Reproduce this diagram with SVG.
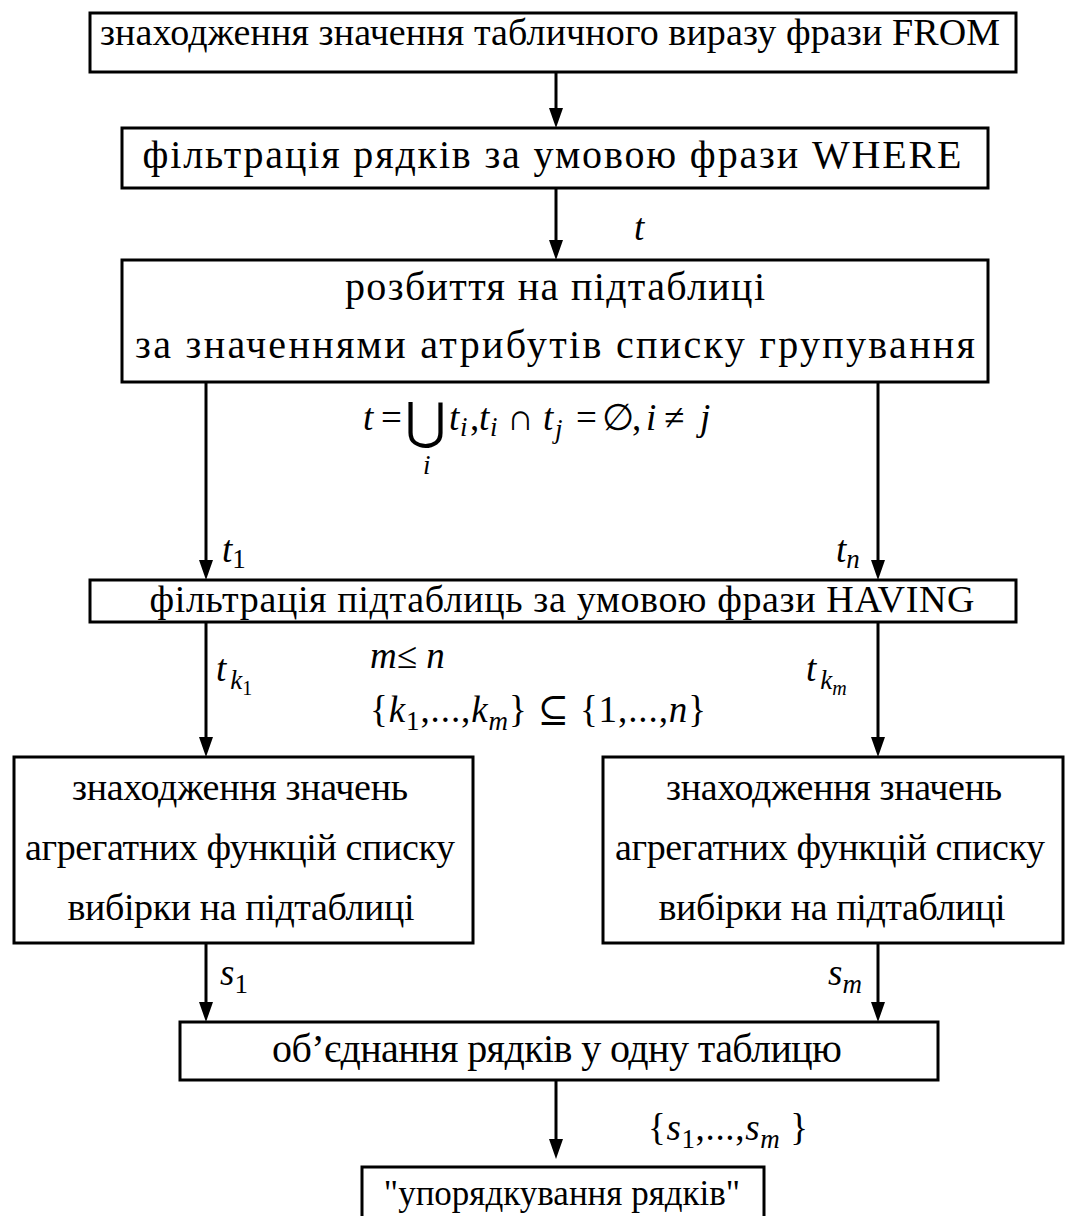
<svg xmlns="http://www.w3.org/2000/svg" width="1079" height="1216" viewBox="0 0 1079 1216" font-family="'Liberation Serif', 'DejaVu Serif', serif">
  <defs>
    <style>
      .box { fill: #fff; stroke: #000; stroke-width: 3; }
      text { font-family: 'Liberation Serif', 'DejaVu Serif', serif; fill: #000; }
      .lbl { font-size: 38px; text-anchor: middle; }
      .big { font-size: 40px; }
      .m { font-size: 37px; font-style: italic; }
      .mu { font-size: 37px; }
      .sub { font-size: 27px; }
      .edge { stroke: #000; stroke-width: 3; fill: none; }
    </style>
  </defs>
  <rect width="1079" height="1216" fill="#fff"/>

  <!-- connectors: vertical lines with filled triangular heads -->
  <g id="connectors">
    <line class="edge" x1="556" y1="72" x2="556" y2="108"/>
    <path d="M549,108 L563,108 L556,128 Z"/>
    <line class="edge" x1="556" y1="188" x2="556" y2="240"/>
    <path d="M549,240 L563,240 L556,260 Z"/>
    <line class="edge" x1="206" y1="382" x2="206" y2="560"/>
    <path d="M199,560 L213,560 L206,580 Z"/>
    <line class="edge" x1="878" y1="382" x2="878" y2="560"/>
    <path d="M871,560 L885,560 L878,580 Z"/>
    <line class="edge" x1="206" y1="622" x2="206" y2="737"/>
    <path d="M199,737 L213,737 L206,757 Z"/>
    <line class="edge" x1="878" y1="622" x2="878" y2="737"/>
    <path d="M871,737 L885,737 L878,757 Z"/>
    <line class="edge" x1="206" y1="943" x2="206" y2="1002"/>
    <path d="M199,1002 L213,1002 L206,1022 Z"/>
    <line class="edge" x1="878" y1="943" x2="878" y2="1002"/>
    <path d="M871,1002 L885,1002 L878,1022 Z"/>
    <line class="edge" x1="556" y1="1080" x2="556" y2="1139"/>
    <path d="M549,1139 L563,1139 L556,1159 Z"/>
  </g>

  <!-- connector labels and formulas -->
  <g id="edge-labels">
    <text class="m" x="634" y="240">t</text>

    <!-- partition formula -->
    <text class="m" x="363" y="430">t</text>
    <text class="mu" x="381" y="430">=</text>
    <text x="405" y="438" style="font-size:50px; font-family:'DejaVu Serif', serif;">⋃</text>
    <text class="m" x="423" y="474" style="font-size:27px;">i</text>
    <text class="m" x="449" y="430">t</text>
    <text class="m" x="460" y="436" style="font-size:27px;">i</text>
    <text class="mu" x="470" y="430">,</text>
    <text class="m" x="479" y="430">t</text>
    <text class="m" x="490" y="436" style="font-size:27px;">i</text>
    <text class="mu" x="507" y="430">∩</text>
    <text class="m" x="543" y="430">t</text>
    <text class="m" x="555" y="438" style="font-size:27px;">j</text>
    <text class="mu" x="576" y="430">=</text>
    <text class="mu" x="602" y="430">∅</text>
    <text class="mu" x="632" y="430">,</text>
    <text class="m" x="646" y="430">i</text>
    <text class="mu" x="664" y="430">≠</text>
    <text class="m" x="700" y="430">j</text>

    <text class="m" x="222" y="562">t<tspan class="sub" font-style="normal" dy="6">1</tspan></text>
    <text class="m" x="836" y="562">t<tspan class="sub" dy="6">n</tspan></text>

    <text class="m" x="216" y="681">t<tspan class="sub" dx="4" dy="8">k</tspan><tspan font-size="20" font-style="normal" dy="6">1</tspan></text>
    <text class="m" x="806" y="681">t<tspan class="sub" dx="4" dy="8">k</tspan><tspan font-size="20" dy="6">m</tspan></text>

    <text class="m" x="370" y="668">m<tspan font-style="normal">≤</tspan> n</text>
    <text class="mu" x="370" y="722" textLength="336" lengthAdjust="spacing">{<tspan font-style="italic">k</tspan><tspan class="sub" dy="8">1</tspan><tspan dy="-8">,...,</tspan><tspan font-style="italic">k</tspan><tspan class="sub" font-style="italic" dy="8">m</tspan><tspan dy="-8">} ⊆ {1,...,</tspan><tspan font-style="italic">n</tspan>}</text>

    <text class="m" x="220" y="985">s<tspan class="sub" font-style="normal" dy="8">1</tspan></text>
    <text class="m" x="828" y="985">s<tspan class="sub" dy="8">m</tspan></text>

    <text class="mu" x="648" y="1140" textLength="160" lengthAdjust="spacing">{<tspan font-style="italic">s</tspan><tspan class="sub" dy="8">1</tspan><tspan dy="-8">,...,</tspan><tspan font-style="italic">s</tspan><tspan class="sub" font-style="italic" dy="8">m</tspan><tspan dy="-8"> }</tspan></text>
  </g>

  <g id="node-from">
    <rect class="box" x="90" y="13" width="926" height="59"/>
    <text class="lbl" x="550" y="45" textLength="900" lengthAdjust="spacing">знаходження значення табличного виразу фрази FROM</text>
  </g>

  <g id="node-where">
    <rect class="box" x="122" y="128" width="866" height="60"/>
    <text class="lbl big" x="552" y="168" textLength="819" lengthAdjust="spacing">фільтрація рядків за умовою фрази WHERE</text>
  </g>

  <g id="node-group">
    <rect class="box" x="122" y="260" width="866" height="122"/>
    <text class="lbl big" x="555" y="300" textLength="420" lengthAdjust="spacing">розбиття на підтаблиці</text>
    <text class="lbl big" x="555" y="358" textLength="840" lengthAdjust="spacing">за значеннями атрибутів списку групування</text>
  </g>

  <g id="node-having">
    <rect class="box" x="90" y="580" width="926" height="42"/>
    <text class="lbl" x="562" y="612" textLength="825" lengthAdjust="spacing">фільтрація підтаблиць за умовою фрази HAVING</text>
  </g>

  <g id="node-agg-1">
    <rect class="box" x="14" y="757" width="459" height="186"/>
    <text class="lbl" x="240" y="800" textLength="336" lengthAdjust="spacing">знаходження значень</text>
    <text class="lbl" x="240" y="860" textLength="430" lengthAdjust="spacing">агрегатних функцій списку</text>
    <text class="lbl" x="241" y="920" textLength="347" lengthAdjust="spacing">вибірки на підтаблиці</text>
  </g>

  <g id="node-agg-m">
    <rect class="box" x="603" y="757" width="460" height="186"/>
    <text class="lbl" x="834" y="800" textLength="336" lengthAdjust="spacing">знаходження значень</text>
    <text class="lbl" x="830" y="860" textLength="430" lengthAdjust="spacing">агрегатних функцій списку</text>
    <text class="lbl" x="832" y="920" textLength="347" lengthAdjust="spacing">вибірки на підтаблиці</text>
  </g>

  <g id="node-union">
    <rect class="box" x="180" y="1022" width="758" height="58"/>
    <text class="lbl big" x="557" y="1062" textLength="570" lengthAdjust="spacing">об’єднання рядків у одну таблицю</text>
  </g>

  <g id="node-order">
    <rect class="box" x="362" y="1167" width="402" height="60"/>
    <text class="lbl" x="562" y="1205" style="font-size:35px;">"упорядкування рядків"</text>
  </g>
</svg>
